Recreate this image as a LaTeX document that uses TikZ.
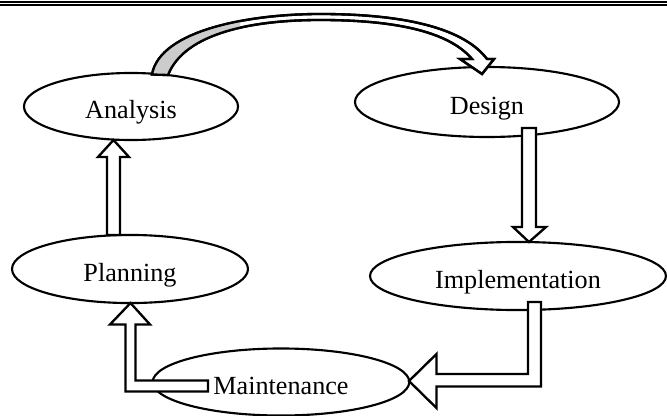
\documentclass[tikz,border=0pt]{standalone}
\usepackage{fontspec}
\setmainfont{Liberation Serif}
\usetikzlibrary{shapes.geometric}

\begin{document}
\begin{tikzpicture}[x=0.47pt, y=-0.47pt,
  phase/.style={ellipse, draw, line width=1pt, fill=white, inner sep=0pt,
    font=\fontsize{12.3}{14}\selectfont, text height=11.5pt, text depth=0pt},
  blk/.style={line width=1.1pt, fill=white, line join=miter}]
\definecolor{rib_grey}{RGB}{204,204,204}
\useasboundingbox (0,0) rectangle (667,416);
% rule at the top
\draw[line width=0.8pt] (0,1.8) -- (667,1.8);
\draw[line width=1.1pt] (0,4.8) -- (667,4.8);
% phases
\node[phase, minimum width=100.6pt, minimum height=31.5pt] (ana) at (131,106.5) {Analysis};
\node[phase, minimum width=124.1pt, minimum height=32.9pt] (des) at (487,102) {Design};
\node[phase, minimum width=110.9pt, minimum height=32pt] (plan) at (130,269) {Planning};
\node[phase, minimum width=139.1pt, minimum height=32pt] (impl) at (518,276) {Implementation};
\node[phase, minimum width=120.6pt, minimum height=31.5pt] (maint) at (281,382) {Maintenance};
% arrow ends
\coordinate (ana-out) at (160,74.5);
\coordinate (des-in) at (482,74);
\coordinate (des-out) at (529,128);
\coordinate (impl-in) at (529,242);
\coordinate (impl-out) at (534.5,302);
\coordinate (maint-in) at (409,381);
\coordinate (maint-out) at (208,386);
\coordinate (plan-in) at (130.5,303);
\coordinate (plan-out) at (113.5,235);
\coordinate (ana-in) at (113.5,140);
% analysis -> design
\draw[blk] (ana-out) ++(-8,0) .. controls (160,30) and (250,14) .. (320,14)
  .. controls (410,14) and (465,30) .. (487,59) -- ++(7,0) -- (des-in) -- ++(-22,-15) -- ++(12,0)
  .. controls (450,33) and (400,20) .. (320,20) .. controls (255,20) and (185,32) .. (168,75) -- cycle;
\begin{scope}
\clip (0,0) rectangle (240,80);
\fill[rib_grey] (ana-out) ++(-8,0) .. controls (160,30) and (250,14) .. (320,14)
  -- (320,20) .. controls (255,20) and (185,32) .. (168,75) -- cycle;
\end{scope}
\draw[line width=1.1pt] (ana-out) ++(-8,0) .. controls (160,30) and (250,14) .. (320,14)
  .. controls (410,14) and (465,30) .. (487,59) -- ++(7,0) -- (des-in) -- ++(-22,-15) -- ++(12,0)
  .. controls (450,33) and (400,20) .. (320,20) .. controls (255,20) and (185,32) .. (168,75) -- cycle;
% design -> implementation
\draw[blk] (des-out) ++(-7,0) -- ++(0,99) -- ++(-9,0) -- (impl-in) -- ++(17,-15) -- ++(-10,0) -- ++(0,-99) -- cycle;
% implementation -> maintenance
\draw[blk] (impl-out) ++(-6.5,0) -- ++(0,72) -- ++(-91.5,0) -- ++(0,-20) -- (maint-in)
  -- ++(27.5,27) -- ++(0,-21.5) -- ++(104.5,0) -- ++(0,-84.5) -- cycle;
% maintenance -> planning
\draw[blk] (maint-out) ++(0,-5.5) -- ++(-72.5,0) -- ++(0,-56) -- ++(14.5,0) -- (plan-in)
  -- ++(-20.5,21.5) -- ++(15.5,0) -- ++(0,67) -- ++(82.5,0) -- cycle;
% planning -> analysis
\draw[blk] (plan-out) ++(-6.5,0) -- ++(0,-78) -- ++(-9,0) -- (ana-in) -- ++(15.5,17) -- ++(-9,0) -- ++(0,78) -- cycle;
\end{tikzpicture}
\end{document}
